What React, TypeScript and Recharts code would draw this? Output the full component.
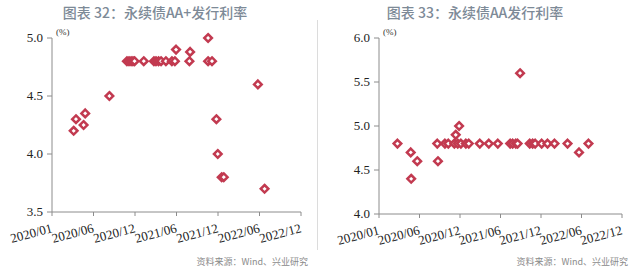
import { Scatter, ScatterChart, XAxis, YAxis } from "recharts";

// x ticks on the original chart sit every 180 days from 2020-01-01
const tickDays = [0, 180, 360, 540, 720, 900, 1080];
const tickLabels = ["2020/01", "2020/06", "2020/12", "2021/06", "2021/12", "2022/06", "2022/12"];

// 图表32: AA+
const aaPlusDates = [
  "2020-04-04", "2020-04-14", "2020-05-17", "2020-05-24", "2020-09-06",
  "2020-11-21", "2020-11-30", "2020-12-09", "2020-12-17", "2020-12-24",
  "2021-02-02", "2021-03-18", "2021-03-27", "2021-04-07", "2021-04-18",
  "2021-05-09", "2021-06-04", "2021-06-17", "2021-06-22", "2021-08-19",
  "2021-08-22", "2021-11-08", "2021-11-08", "2021-11-25", "2021-12-14",
  "2021-12-20", "2022-01-06", "2022-01-15", "2022-06-12", "2022-07-11",
];
const aaPlusRates = [
  4.2, 4.3, 4.25, 4.35, 4.5,
  4.8, 4.8, 4.8, 4.8, 4.8,
  4.8, 4.8, 4.8, 4.8, 4.8,
  4.8, 4.8, 4.8, 4.9, 4.8,
  4.88, 5.0, 4.8, 4.8, 4.3,
  4.0, 3.8, 3.8, 4.6, 3.7,
];

// 图表33: AA
const aaDates = [
  "2020-03-23", "2020-05-21", "2020-05-23", "2020-06-19", "2020-09-19",
  "2020-09-16", "2020-10-20", "2020-11-04", "2020-12-01", "2020-12-07",
  "2020-12-16", "2020-12-22", "2020-12-30", "2021-01-21", "2021-02-03",
  "2021-03-24", "2021-05-03", "2021-06-12", "2021-08-06", "2021-08-17",
  "2021-08-31", "2021-09-08", "2021-09-19", "2021-11-01", "2021-11-14",
  "2021-11-25", "2021-12-24", "2022-01-19", "2022-02-19", "2022-04-18",
  "2022-06-08", "2022-07-20",
];
const aaRates = [
  4.8, 4.7, 4.4, 4.6, 4.6,
  4.8, 4.8, 4.8, 4.8, 4.9,
  4.8, 5.0, 4.8, 4.8, 4.8,
  4.8, 4.8, 4.8, 4.8, 4.8,
  4.8, 4.8, 5.6, 4.8, 4.8,
  4.8, 4.8, 4.8, 4.8, 4.8,
  4.7, 4.8,
];

const leftTicks = [3.5, 4.0, 4.5, 5.0];
const rightTicks = [4.0, 4.5, 5.0, 5.5, 6.0];

const origin = Date.UTC(2020, 0, 1);
const toDay = (s: string) => {
  const [y, m, d] = s.split("-").map(Number);
  return (Date.UTC(y, m - 1, d) - origin) / 86400000;
};
const build = (dates: string[], rates: number[]) =>
  dates.map((s, i) => ({ d: toDay(s), r: rates[i] }));

const RED = "#c23a50";
const AXIS = "#8c8c8c";
const SERIF = "Liberation Serif, Times New Roman, DejaVu Serif, serif";
const SANS = "Noto Sans CJK SC, Noto Sans, sans-serif";

const Diamond = (props: any) => {
  const { cx, cy } = props;
  const s = 3.8;
  return (
    <path
      d={`M${cx},${cy - s}L${cx + s},${cy}L${cx},${cy + s}L${cx - s},${cy}Z`}
      fill="#fff"
      stroke={RED}
      strokeWidth={2.5}
    />
  );
};

const DateTick = (props: any) => {
  const { x, y, payload } = props;
  const i = tickDays.indexOf(payload.value);
  return (
    <text
      x={x + 1}
      y={y + 14}
      transform={`rotate(-15, ${x + 1}, ${y + 14})`}
      textAnchor="end"
      style={{ fontFamily: SERIF, fontSize: 13 }}
      fill="#222"
    >
      {tickLabels[i]}
    </text>
  );
};

const ValueTick = (props: any) => {
  const { x, y, payload } = props;
  return (
    <text
      x={x}
      y={y}
      dy={4}
      textAnchor="end"
      style={{ fontFamily: SERIF, fontSize: 13 }}
      fill="#222"
    >
      {Number(payload.value).toFixed(1)}
    </text>
  );
};

type PanelProps = {
  title: string;
  data: { d: number; r: number }[];
  yTicks: number[];
  yWidth: number;
  right: number;
  bottom: number;
  left: number;
};

const Panel = (props: PanelProps) => {
  const { title, data, yTicks, yWidth, right, bottom, left } = props;
  return (
    <div style={{ position: "absolute", left, top: 0, width: 320, height: 271 }}>
      <div
        style={{
          position: "absolute",
          top: 2,
          left: 0,
          width: 310,
          textAlign: "center",
          fontFamily: SANS,
          fontSize: 14,
          fontWeight: 500,
          color: "#7d8a97",
        }}
      >
        {title}
      </div>
      <div
        style={{
          position: "absolute",
          top: 27,
          left: yWidth + 4,
          fontFamily: SERIF,
          fontSize: 9,
          color: "#333",
        }}
      >
        (%)
      </div>
      <ScatterChart
        width={320}
        height={271}
        margin={{ top: 38, right, bottom, left: 0 }}
      >
        <XAxis
          type="number"
          dataKey="d"
          domain={[0, 1080]}
          ticks={tickDays}
          interval={0}
          tick={<DateTick />}
          stroke={AXIS}
          tickSize={4}
          allowDataOverflow
        />
        <YAxis
          type="number"
          dataKey="r"
          domain={[yTicks[0], yTicks[yTicks.length - 1]]}
          ticks={yTicks}
          interval={0}
          width={yWidth}
          tick={<ValueTick />}
          stroke={AXIS}
          tickSize={5}
          tickMargin={4}
        />
        <Scatter data={data} shape={<Diamond />} isAnimationActive={false} />
      </ScatterChart>
      <div
        style={{
          position: "absolute",
          top: 255,
          right: 12,
          fontFamily: SANS,
          fontSize: 9,
          color: "#8a8a8a",
        }}
      >
        资料来源：Wind、兴业研究
      </div>
    </div>
  );
};

export default function App() {
  return (
    <div
      style={{
        position: "absolute",
        left: 0,
        top: 0,
        width: 640,
        height: 271,
        background: "#fff",
        overflow: "hidden",
      }}
    >
      <Panel
        title="图表 32：永续债AA+发行利率"
        data={build(aaPlusDates, aaPlusRates)}
        yTicks={leftTicks}
        yWidth={52}
        right={19}
        bottom={29}
        left={0}
      />
      <div
        style={{
          position: "absolute",
          left: 317,
          top: 20,
          width: 1,
          height: 230,
          background: "#dcdcdc",
        }}
      />
      <Panel
        title="图表 33：永续债AA发行利率"
        data={build(aaDates, aaRates)}
        yTicks={rightTicks}
        yWidth={59}
        right={18}
        bottom={27}
        left={320}
      />
    </div>
  );
}
